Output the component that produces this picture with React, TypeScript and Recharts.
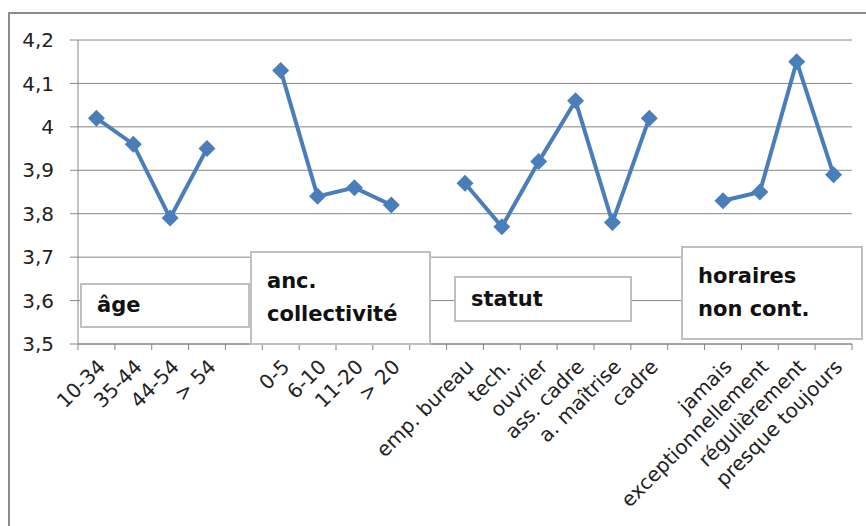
import { CartesianGrid, Line, LineChart, XAxis, YAxis } from "recharts";

const categories = [
  "10-34", "35-44", "44-54", "> 54", "",
  "0-5", "6-10", "11-20", "> 20", "",
  "emp. bureau", "tech.", "ouvrier", "ass. cadre", "a. maîtrise", "cadre", "",
  "jamais", "exceptionnellement", "régulièrement", "presque toujours",
];
const scores = [
  4.02, 3.96, 3.79, 3.95, null,
  4.13, 3.84, 3.86, 3.82, null,
  3.87, 3.77, 3.92, 4.06, 3.78, 4.02, null,
  3.83, 3.85, 4.15, 3.89,
];
const yTicks = [3.5, 3.6, 3.7, 3.8, 3.9, 4.0, 4.1, 4.2];

const groupBoxes = [
  { lines: ["âge"], left: 80, top: 283, width: 170, height: 45 },
  { lines: ["anc.", "collectivité"], left: 250, top: 251, width: 181, height: 94 },
  { lines: ["statut"], left: 454, top: 276, width: 178, height: 46 },
  { lines: ["horaires", "non cont."], left: 681, top: 246, width: 182, height: 94 },
];

const data = categories.map((name, i) => ({ name, score: scores[i] }));

const W = 866;
const H = 526;
const LEFT = 78;
const RIGHT = 14;
const STEP = (W - LEFT - RIGHT) / categories.length;
const FONT = "'DejaVu Sans', sans-serif";
const AXIS = "#868686";
const BLUE = "#4a7ebb";

function Diamond(props: any) {
  const { cx, cy, index } = props;
  if (cx == null || cy == null || props.value == null) return <g key={index} />;
  const r = 8.5;
  return (
    <polygon
      key={index}
      points={`${cx},${cy - r} ${cx + r},${cy} ${cx},${cy + r} ${cx - r},${cy}`}
      fill={BLUE}
    />
  );
}

function CategoryTick(props: any) {
  const { x, y, payload, index } = props;
  const last = index === categories.length - 1;
  const ax = x + 10;
  const ay = y + 24;
  return (
    <g>
      <line x1={x - STEP / 2} y1={y} x2={x - STEP / 2} y2={y + 6} stroke={AXIS} />
      {last && <line x1={x + STEP / 2} y1={y} x2={x + STEP / 2} y2={y + 6} stroke={AXIS} />}
      <text
        x={ax}
        y={ay}
        transform={`rotate(-45, ${ax}, ${ay})`}
        textAnchor="end"
        fontSize={20}
        fontFamily={FONT}
        fill="#222"
      >
        {payload.value}
      </text>
    </g>
  );
}

export default function App() {
  return (
    <div
      style={{
        position: "absolute",
        left: 0,
        top: 0,
        width: W,
        height: H,
        overflow: "hidden",
        background: "#fff",
      }}
    >
      <div
        style={{
          position: "absolute",
          left: 8,
          top: 12,
          width: 900,
          height: 600,
          border: "2px solid #8c8c8c",
        }}
      />
      <div style={{ position: "absolute", left: 0, top: 0 }}>
        <LineChart width={W} height={H} data={data} margin={{ top: 40, right: RIGHT, left: 0, bottom: 0 }}>
          <CartesianGrid vertical={false} stroke={AXIS} strokeWidth={1} />
          <XAxis
            dataKey="name"
            interval={0}
            height={182}
            padding={{ left: STEP / 2, right: STEP / 2 }}
            axisLine={{ stroke: AXIS }}
            tickLine={false}
            tickSize={0}
            tickMargin={0}
            tick={<CategoryTick />}
          />
          <YAxis
            width={LEFT}
            domain={[3.5, 4.2]}
            ticks={yTicks}
            interval={0}
            axisLine={{ stroke: AXIS }}
            tickLine={{ stroke: AXIS }}
            tickSize={8}
            tickMargin={16}
            tickFormatter={(v: number) => String(Math.round(v * 10) / 10).replace(".", ",")}
            tick={{ fontSize: 20, fontFamily: FONT, fill: "#222" }}
          />
          <Line
            dataKey="score"
            type="linear"
            stroke={BLUE}
            strokeWidth={4}
            connectNulls={false}
            dot={<Diamond />}
            activeDot={false}
            isAnimationActive={false}
          />
        </LineChart>
      </div>
      {groupBoxes.map((b) => (
        <div
          key={b.lines.join(" ")}
          style={{
            position: "absolute",
            left: b.left,
            top: b.top,
            width: b.width,
            height: b.height,
            boxSizing: "border-box",
            border: "2px solid #c0c0c0",
            background: "#fff",
            display: "flex",
            flexDirection: "column",
            justifyContent: "center",
            paddingLeft: 15,
            fontFamily: FONT,
            fontWeight: "bold",
            fontSize: 21,
            lineHeight: "33px",
            color: "#111",
          }}
        >
          {b.lines.map((l) => (
            <div key={l}>{l}</div>
          ))}
        </div>
      ))}
    </div>
  );
}
